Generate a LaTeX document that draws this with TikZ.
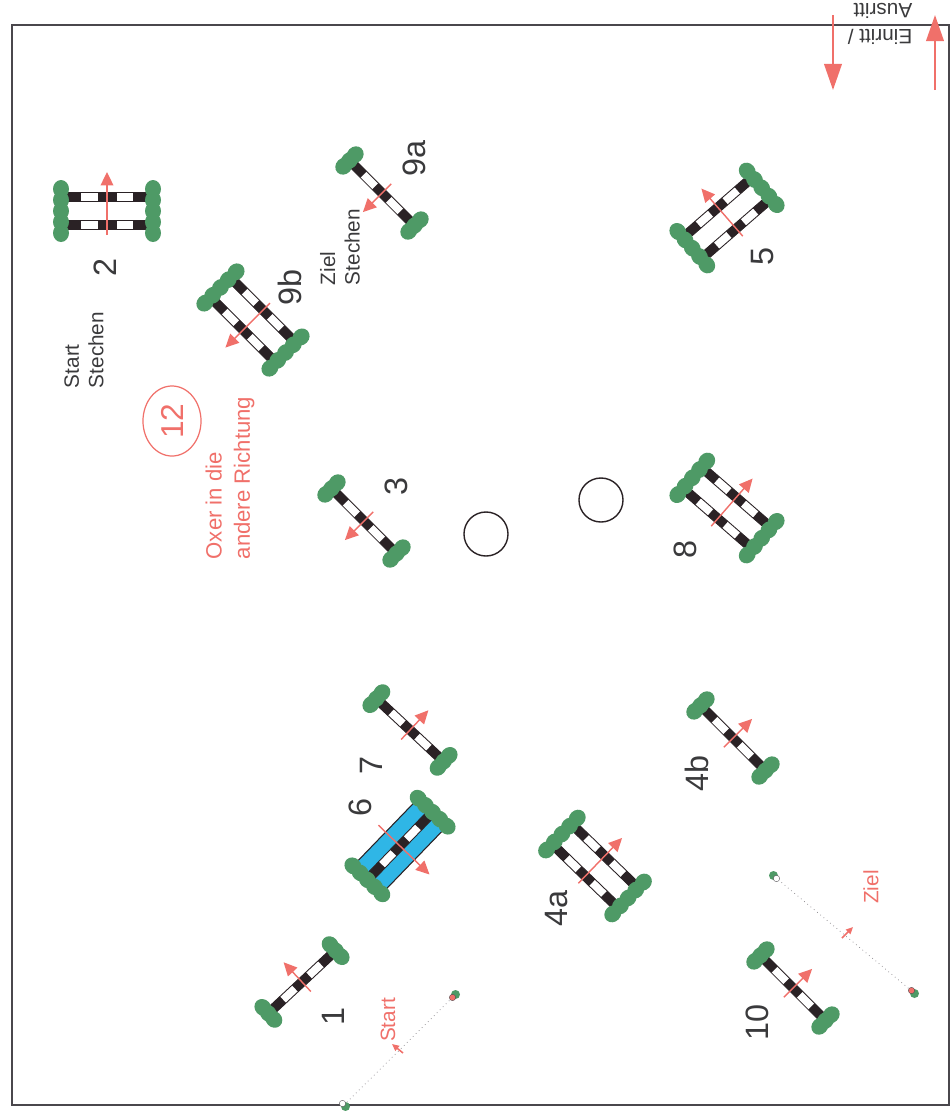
\documentclass[tikz,border=0pt]{standalone}
\usepackage{fontspec}
\setmainfont{Liberation Sans}
\usetikzlibrary{arrows.meta,shapes.geometric}
\definecolor{CourseRed}{HTML}{F0706A}
\definecolor{WingGreen}{HTML}{4E9A66}
\definecolor{WaterBlue}{HTML}{2FB6E6}
\definecolor{RailBlack}{HTML}{2A2225}
\definecolor{CourseText}{HTML}{3A3A3C}
\definecolor{FrameGrey}{HTML}{4A474C}
\tikzset{
  courselabel/.style={text=CourseText,rotate=90,align=left,font=\fontsize{5.9pt}{7pt}\selectfont,inner sep=0pt},
  jumpno/.style={text=CourseText,rotate=90,font=\fontsize{9.2pt}{10pt}\selectfont,inner sep=0pt},
  redlabel/.style={courselabel,text=CourseRed},
  dirarrow/.style={-{Triangle[length=3.8pt,width=3.6pt]},CourseRed,line width=0.4pt},
  linearrow/.style={-{Triangle[length=2pt,width=1.8pt]},CourseRed,line width=0.45pt},
  entryarrow/.style={-{Triangle[length=7.4pt,width=5pt]},CourseRed,line width=0.55pt},
  pics/wing/.style={code={
    \foreach \w in {#1} \fill[WingGreen] (0,\w) ellipse (8 and 9);
  }},
  pics/rail/.style={code={
    \fill[white] (-45,-4.5) rectangle (45,4.5);
    \foreach \s in {-45,-9.5,26} \fill[RailBlack] (\s,-4.5) rectangle ++(19,9);
    \draw[RailBlack,line width=0.25pt] (-45,-4.5) rectangle (45,4.5);
  }},
  pics/vertical/.style={code={
    \pic[transform shape] at (0,0) {rail};
    \pic[transform shape] at (-46,0) {wing={-8,0,8}};
    \pic[transform shape] at (46,0) {wing={-8,0,8}};
    \draw[dirarrow] (0,13) -- (0,-27);
  }},
  pics/oxer/.style={code={
    \pic[transform shape] at (0,-14) {rail};
    \pic[transform shape] at (0,14) {rail};
    \pic[transform shape] at (-46,0) {wing={-22,-11,0,11,22}};
    \pic[transform shape] at (46,0) {wing={-22,-11,0,11,22}};
    \draw[dirarrow] (0,24) -- (0,-39);
  }},
  pics/water/.style={code={
    \fill[WaterBlue] (-44,-20) rectangle (44,20);
    \draw[RailBlack,line width=0.3pt] (-44,-20) -- (44,-20) (-44,20) -- (44,20);
    \pic[transform shape] at (0,0) {rail};
    \pic[transform shape] at (-47,0) {wing={-20,-10,0,10,20}};
    \pic[transform shape] at (47,0) {wing={-20,-10,0,10,20}};
    \draw[dirarrow] (0,30) -- (0,-41);
  }},
  pics/flag/.style={code={
    \fill[WingGreen] (1.5,-1.5) circle (4.5);
    \filldraw[fill=#1,draw=FrameGrey,line width=0.1pt] (-1.5,1.5) circle (3.2);
  }}
}
\begin{document}
\begin{tikzpicture}[x=0.01cm,y=-0.01cm]
  \useasboundingbox (0,0) rectangle (950,1111);
  \draw[FrameGrey,line width=0.55pt] (12,25) rectangle (949,1105);

  % verticals
  \foreach \cx/\cy/\ang in {302/982/43,364/521/135,733/738/-45,410/730/-43,382/193/135,793/988/-45}
    \pic[rotate=\ang] at (\cx,\cy) {vertical};
  % oxers
  \foreach \cx/\cy/\ang in {107/211/0,595/866/-44,727/218/41,727/508/-41,253/320/135}
    \pic[rotate=\ang] at (\cx,\cy) {oxer};
  \pic[rotate=-134] at (400,846) {water};

  % start and finish
  \coordinate (startA) at (344,1105);
  \coordinate (startB) at (454,996);
  \coordinate (zielA) at (775,877);
  \coordinate (zielB) at (913,992);
  \draw[densely dotted,FrameGrey!70,line width=0.2pt] (startA) -- (startB);
  \draw[densely dotted,FrameGrey!70,line width=0.2pt] (zielA) -- (zielB);
  \pic[rotate=-90] at (startA) {flag=white};
  \pic at (startB) {flag=CourseRed};
  \pic[rotate=90] at (zielA) {flag=white};
  \pic[rotate=-90] at (zielB) {flag=CourseRed};
  \coordinate (startT) at (403,1053);
  \coordinate (startH) at (392,1044);
  \coordinate (zielT) at (842,938);
  \coordinate (zielH) at (853,927);
  \draw[linearrow] (startT) -- (startH);
  \draw[linearrow] (zielT) -- (zielH);

  % entry
  \coordinate (einT) at (833,15);
  \coordinate (einH) at (833,90);
  \coordinate (ausT) at (935,90);
  \coordinate (ausH) at (935,15);
  \draw[entryarrow] (einT) -- (einH);
  \draw[entryarrow] (ausT) -- (ausH);
  \node[text=CourseText,rotate=180,align=left,inner sep=0pt,font=\fontsize{5.9pt}{7.6pt}\selectfont] (entry) at (880,24) {Einritt /\\Ausritt};

  % ground circles
  \node[draw=RailBlack,line width=0.4pt,circle,minimum size=0.44cm,inner sep=0pt] (circleA) at (486,534) {};
  \node[draw=RailBlack,line width=0.4pt,circle,minimum size=0.44cm,inner sep=0pt] (circleB) at (601,500) {};

  % numbers
  \node[jumpno] (n1) at (333,1016) {1};
  \node[jumpno] (n2) at (105,267) {2};
  \node[jumpno] (n3) at (396,486) {3};
  \node[jumpno] (n4a) at (557,908) {4a};
  \node[jumpno] (n4b) at (697,773) {4b};
  \node[jumpno] (n5) at (763,256) {5};
  \node[jumpno] (n6) at (360,807) {6};
  \node[jumpno] (n7) at (371,765) {7};
  \node[jumpno] (n8) at (685,549) {8};
  \node[jumpno] (n9a) at (414,158) {9a};
  \node[jumpno] (n9b) at (290,287) {9b};
  \node[jumpno] (n10) at (757,1022) {10};

  % labels
  \node[courselabel] (startst) at (84,350) {Start\\Stechen};
  \node[courselabel] (zielst) at (340,247) {Ziel\\Stechen};
  \node[redlabel] (start) at (388,1020) {Start};
  \node[redlabel] (ziel) at (871,887) {Ziel};
  \node[redlabel,font=\fontsize{6.3pt}{8pt}\selectfont] (oxerdir) at (230,478) {Oxer in die\\andere Richtung};
  \node[draw=CourseRed,ellipse,line width=0.35pt,text=CourseRed,rotate=90,minimum width=0.7cm,minimum height=0.58cm,inner sep=0pt,font=\fontsize{9pt}{10pt}\selectfont] (twelve) at (172,421) {12};
\end{tikzpicture}
\end{document}
